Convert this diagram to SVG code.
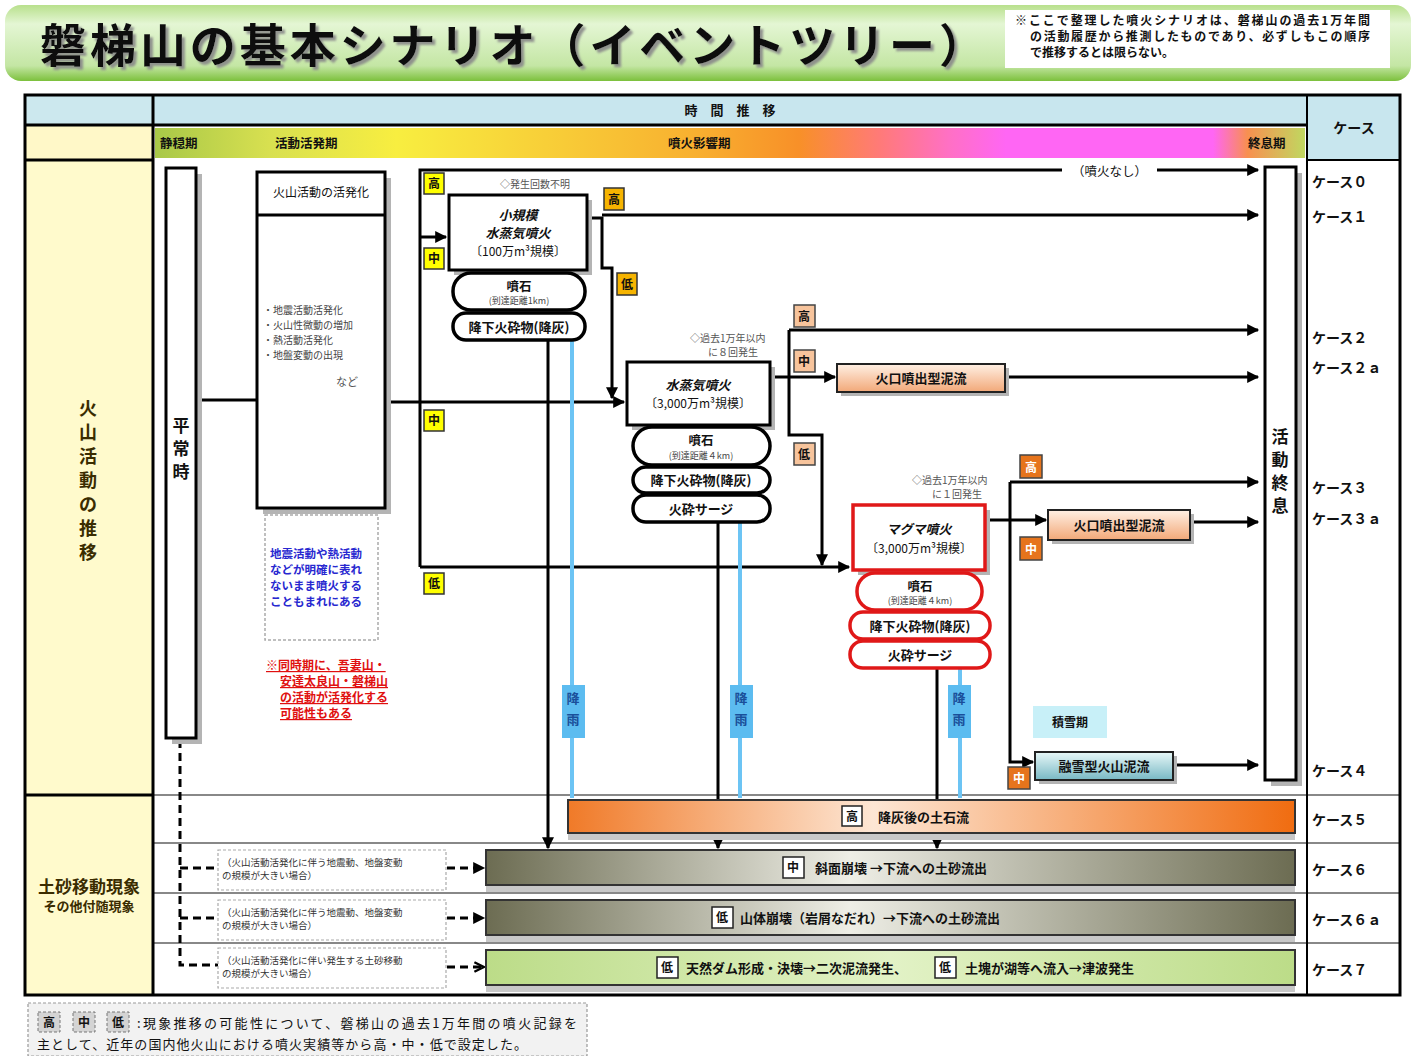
<svg xmlns="http://www.w3.org/2000/svg" width="1411" height="1056" viewBox="0 0 1411 1056">
<style>
text{font-family:"Noto Sans CJK JP","Noto Sans",sans-serif;fill:#111}
.b{font-weight:bold}
.c{text-anchor:middle}
.ln{fill:none;stroke:#000;stroke-width:3}
.blue{fill:none;stroke:#6cc4f4;stroke-width:4}
.dash{fill:none;stroke:#000;stroke-width:3;stroke-dasharray:8,5}
.box{fill:#fff;stroke:#000;stroke-width:3}
.sh{fill:#b4b4b4}
.pill{fill:#fff;stroke:#000;stroke-width:3.5}
.rpill{fill:#fff;stroke:#e01818;stroke-width:3.5}
.by{fill:#ffff00;stroke:#333;stroke-width:1.5}
.bg{fill:#f6b400;stroke:#333;stroke-width:1.5}
.bp{fill:#f7c49c;stroke:#444;stroke-width:1.5}
.bo{fill:#e6741c;stroke:#444;stroke-width:1.5}
.bw{fill:#fff;stroke:#222;stroke-width:1.5}
.bt{font-size:12px;font-weight:bold;text-anchor:middle}
.case{font-size:14px;font-weight:bold}
.note{font-size:10px;fill:#555}
.grid{stroke:#888;stroke-width:2}
.rain{fill:#5cbcf0}
.raint{font-size:13px;font-weight:bold;fill:#1a4f9a;text-anchor:middle}
</style>
<defs>
<marker id="ah" viewBox="0 0 10 10" refX="9" refY="5" markerWidth="13" markerHeight="12" markerUnits="userSpaceOnUse" orient="auto"><path d="M0,0 L10,5 L0,10 z" fill="#000"/></marker>
<marker id="ao" viewBox="0 0 10 10" refX="9" refY="5" markerWidth="12" markerHeight="12" markerUnits="userSpaceOnUse" orient="auto"><path d="M1,1 L9,5 L1,9" fill="none" stroke="#000" stroke-width="2"/></marker>
<filter id="tsh" x="-5%" y="-20%" width="110%" height="140%"><feDropShadow dx="3" dy="3" stdDeviation="0.8" flood-color="#888" flood-opacity="0.9"/></filter>
<linearGradient id="gTitle" x1="0" y1="0" x2="0" y2="1"><stop offset="0" stop-color="#b8e08c"/><stop offset="0.25" stop-color="#e4f6d4"/><stop offset="0.8" stop-color="#c4e6a4"/><stop offset="1" stop-color="#7cc03c"/></linearGradient>
<linearGradient id="gPhase" x1="0" y1="0" x2="1" y2="0"><stop offset="0" stop-color="#a8c848"/><stop offset="0.1" stop-color="#d8e050"/><stop offset="0.21" stop-color="#f8ee40"/><stop offset="0.47" stop-color="#f8b030"/><stop offset="0.56" stop-color="#f89028"/><stop offset="0.63" stop-color="#ff7a78"/><stop offset="0.69" stop-color="#ff70c4"/><stop offset="0.74" stop-color="#ff66f4"/><stop offset="0.92" stop-color="#ff66f4"/><stop offset="0.95" stop-color="#f89050"/><stop offset="1" stop-color="#c0d860"/></linearGradient>
<linearGradient id="gOr" x1="0" y1="0" x2="1" y2="0"><stop offset="0" stop-color="#f07a28"/><stop offset="0.42" stop-color="#fde6d4"/><stop offset="1" stop-color="#f06c10"/></linearGradient>
<linearGradient id="gOl" x1="0" y1="0" x2="1" y2="0"><stop offset="0" stop-color="#6c6c52"/><stop offset="0.45" stop-color="#eeeee6"/><stop offset="1" stop-color="#6c6c52"/></linearGradient>
<linearGradient id="gGr" x1="0" y1="0" x2="1" y2="0"><stop offset="0" stop-color="#bcdc88"/><stop offset="0.5" stop-color="#e2f2c6"/><stop offset="1" stop-color="#bcdc88"/></linearGradient>
<linearGradient id="gPe" x1="0" y1="0" x2="0" y2="1"><stop offset="0" stop-color="#fff0e4"/><stop offset="1" stop-color="#f2a878"/></linearGradient>
<linearGradient id="gTe" x1="0" y1="0" x2="0" y2="1"><stop offset="0" stop-color="#e8f8f8"/><stop offset="1" stop-color="#78b8c4"/></linearGradient>
</defs>

<!-- Title banner -->
<g id="title">
<rect x="5" y="5" width="1406" height="76" rx="16" fill="url(#gTitle)"/>
<text x="40" y="62" font-size="46" font-weight="bold" textLength="945" filter="url(#tsh)">磐梯山の基本シナリオ（イベントツリー）</text>
<rect x="1005" y="10" width="385" height="58" fill="#fff"/>
<text x="1015" y="25" font-size="12" class="b" textLength="355">※ここで整理した噴火シナリオは、磐梯山の過去1万年間</text>
<text x="1030" y="41" font-size="12" class="b" textLength="340">の活動履歴から推測したものであり、必ずしもこの順序</text>
<text x="1030" y="57" font-size="12" class="b">で推移するとは限らない。</text>
</g>

<!-- Table frame -->
<g id="table">
<rect x="25" y="95" width="128" height="30" fill="#cce8ee"/>
<rect x="25" y="125" width="128" height="35" fill="#fff8c8"/>
<rect x="153" y="95" width="1154" height="30" fill="#c8e6ee"/>
<rect x="1307" y="95" width="93" height="65" fill="#c8e6ee"/>
<rect x="25" y="160" width="128" height="835" fill="#fffacc"/>
<rect x="155" y="128" width="1150" height="30" fill="url(#gPhase)"/>
<line x1="153" y1="795" x2="1400" y2="795" class="grid"/>
<line x1="153" y1="843" x2="1400" y2="843" class="grid"/>
<line x1="153" y1="893" x2="1400" y2="893" class="grid"/>
<line x1="153" y1="943" x2="1400" y2="943" class="grid"/>
<line x1="25" y1="795" x2="153" y2="795" stroke="#000" stroke-width="3"/>
<line x1="25" y1="125" x2="1307" y2="125" stroke="#000" stroke-width="3"/>
<line x1="25" y1="160" x2="153" y2="160" stroke="#000" stroke-width="3"/>
<line x1="1307" y1="160" x2="1400" y2="160" stroke="#000" stroke-width="2"/>
<line x1="153" y1="95" x2="153" y2="995" stroke="#000" stroke-width="3"/>
<line x1="1307" y1="95" x2="1307" y2="995" stroke="#000" stroke-width="2"/>
<rect x="25" y="95" width="1375" height="900" fill="none" stroke="#000" stroke-width="3"/>
<text x="730" y="115" font-size="13" class="b c">時　間　推　移</text>
<text x="160" y="148" font-size="12.5" class="b">静穏期</text>
<text x="275" y="148" font-size="12.5" class="b">活動活発期</text>
<text x="668" y="148" font-size="12.5" class="b">噴火影響期</text>
<text x="1248" y="148" font-size="12.5" class="b">終息期</text>
<text x="1354" y="133" font-size="14" class="b c">ケース</text>
<text x="88" font-size="18" class="b c" style="fill:#3a2c00"><tspan x="88" y="415">火</tspan><tspan x="88" y="439">山</tspan><tspan x="88" y="463">活</tspan><tspan x="88" y="487">動</tspan><tspan x="88" y="511">の</tspan><tspan x="88" y="535">推</tspan><tspan x="88" y="559">移</tspan></text>
<text x="89" y="893" font-size="17" class="b c" style="fill:#3a2c00">土砂移動現象</text>
<text x="89" y="911" font-size="13" class="b c" style="fill:#3a2c00">その他付随現象</text>
<text x="1312" y="187" class="case">ケース０</text>
<text x="1312" y="222" class="case">ケース１</text>
<text x="1312" y="343" class="case">ケース２</text>
<text x="1312" y="373" class="case">ケース２ａ</text>
<text x="1312" y="493" class="case">ケース３</text>
<text x="1312" y="524" class="case">ケース３ａ</text>
<text x="1312" y="776" class="case">ケース４</text>
<text x="1312" y="825" class="case">ケース５</text>
<text x="1312" y="875" class="case">ケース６</text>
<text x="1312" y="925" class="case">ケース６ａ</text>
<text x="1312" y="975" class="case">ケース７</text>
</g>

<!-- Connectors -->
<g id="connectors">
<path class="ln" d="M196,400 H257"/>
<path class="ln" d="M385,402 H624" marker-end="url(#ah)"/>
<path class="ln" d="M420,567 V170 H1062"/>
<path class="ln" d="M1157,170 H1258" marker-end="url(#ah)"/>
<path class="ln" d="M420,237 H446" marker-end="url(#ah)"/>
<path class="ln" d="M420,567 H849" marker-end="url(#ah)"/>
<path class="ln" d="M587,218 H602 V268 H612 V398" marker-end="url(#ah)"/>
<path class="ln" d="M602,215 H1258" marker-end="url(#ah)"/>
<path class="ln" d="M770,377 H835" marker-end="url(#ah)"/>
<path class="ln" d="M789,330 H1258" marker-end="url(#ah)"/>
<path class="ln" d="M789,330 V435 H822 V565" marker-end="url(#ah)"/>
<path class="ln" d="M1005,377 H1258" marker-end="url(#ah)"/>
<path class="ln" d="M985,520 H1046" marker-end="url(#ah)"/>
<path class="ln" d="M1010,482 H1258" marker-end="url(#ah)"/>
<path class="ln" d="M1010,482 V762 H1033" marker-end="url(#ah)"/>
<path class="ln" d="M1190,522 H1258" marker-end="url(#ah)"/>
<path class="ln" d="M1173,765 H1258" marker-end="url(#ah)"/>
<path class="ln" d="M548,340 V848" marker-end="url(#ah)"/>
<path class="ln" d="M718,522 V848" marker-end="url(#ah)"/>
<path class="ln" d="M937,668 V848" marker-end="url(#ah)"/>
<path class="blue" d="M572,340 V798"/>
<path class="blue" d="M740,522 V798"/>
<path class="blue" d="M960,668 V798"/>
<path class="dash" d="M180,740 V965 H218"/>
<path class="dash" d="M180,868 H218"/>
<path class="dash" d="M180,918 H218"/>
<path class="dash" d="M447,868 H484" marker-end="url(#ah)"/>
<path class="dash" d="M447,918 H484" marker-end="url(#ah)"/>
<path class="dash" d="M447,967 H484" marker-end="url(#ao)"/>
</g>

<!-- Left nodes -->
<g id="heijoji">
<rect class="sh" x="172" y="174" width="30" height="570"/>
<rect class="box" x="166" y="168" width="30" height="570"/>
<text font-size="17" class="b c"><tspan x="181" y="432">平</tspan><tspan x="181" y="455">常</tspan><tspan x="181" y="478">時</tspan></text>
</g>
<g id="kasseika">
<rect class="sh" x="263" y="178" width="128" height="336"/>
<rect class="box" x="257" y="172" width="128" height="336"/>
<line x1="257" y1="215" x2="385" y2="215" stroke="#000" stroke-width="3"/>
<text x="321" y="197" font-size="12" class="c">火山活動の活発化</text>
<text font-size="10" style="fill:#444"><tspan x="263" y="314">・地震活動活発化</tspan><tspan x="263" y="329">・火山性微動の増加</tspan><tspan x="263" y="344">・熱活動活発化</tspan><tspan x="263" y="359">・地盤変動の出現</tspan></text>
<text x="336" y="386" font-size="11" style="fill:#555">など</text>
</g>
<g id="note-blue">
<rect x="265" y="515" width="113" height="125" fill="#fff" stroke="#aaa" stroke-width="1.5" stroke-dasharray="3,2"/>
<text font-size="11.5" class="b" style="fill:#2828d0"><tspan x="270" y="558">地震活動や熱活動</tspan><tspan x="270" y="574">などが明確に表れ</tspan><tspan x="270" y="590">ないまま噴火する</tspan><tspan x="270" y="606">こともまれにある</tspan></text>
</g>
<g id="note-red">
<text font-size="12" class="b" style="fill:#e01010" text-decoration="underline"><tspan x="266" y="670">※同時期に、吾妻山・</tspan><tspan x="280" y="686">安達太良山・磐梯山</tspan><tspan x="280" y="702">の活動が活発化する</tspan><tspan x="280" y="718">可能性もある</tspan></text>
</g>

<!-- Badges -->
<g id="badges">
<rect class="by" x="424" y="173" width="20" height="21"/><text x="434" y="188" class="bt">高</text>
<rect class="by" x="424" y="248" width="20" height="21"/><text x="434" y="263" class="bt">中</text>
<rect class="by" x="424" y="410" width="20" height="21"/><text x="434" y="425" class="bt">中</text>
<rect class="by" x="424" y="573" width="20" height="21"/><text x="434" y="588" class="bt">低</text>
<rect class="bg" x="604" y="188" width="20" height="22"/><text x="614" y="204" class="bt">高</text>
<rect class="bg" x="617" y="273" width="20" height="22"/><text x="627" y="289" class="bt">低</text>
<rect class="bp" x="794" y="305" width="21" height="22"/><text x="804" y="321" class="bt">高</text>
<rect class="bp" x="794" y="350" width="21" height="22"/><text x="804" y="366" class="bt">中</text>
<rect class="bp" x="794" y="443" width="21" height="22"/><text x="804" y="459" class="bt">低</text>
<rect class="bo" x="1020" y="455" width="22" height="23"/><text x="1031" y="472" class="bt" style="fill:#fff">高</text>
<rect class="bo" x="1020" y="537" width="22" height="23"/><text x="1031" y="554" class="bt" style="fill:#fff">中</text>
<rect class="bo" x="1008" y="767" width="22" height="22"/><text x="1019" y="783" class="bt" style="fill:#fff">中</text>
</g>

<!-- Eruption nodes -->
<g id="shokibo">
<text x="500" y="188" class="note">◇発生回数不明</text>
<rect class="sh" x="454" y="200" width="138" height="75"/>
<rect class="box" x="449" y="195" width="138" height="75"/>
<text x="518" y="220" font-size="13" class="b c" font-style="italic">小規模</text>
<text x="518" y="238" font-size="13" class="b c" font-style="italic">水蒸気噴火</text>
<text x="518" y="256" font-size="12" class="c">〔100万m³規模〕</text>
<rect class="pill" x="453" y="273" width="132" height="37" rx="18"/>
<text x="519" y="291" font-size="12.5" class="b c">噴石</text>
<text x="519" y="304" font-size="9" class="c" style="fill:#444">(到達距離1km)</text>
<rect class="pill" x="453" y="313" width="132" height="27" rx="13"/>
<text x="519" y="332" font-size="13" class="b c">降下火砕物(降灰)</text>
</g>
<g id="suijoki">
<text x="690" y="342" class="note">◇過去1万年以内</text>
<text x="708" y="356" class="note">に８回発生</text>
<rect class="sh" x="632" y="367" width="143" height="63"/>
<rect class="box" x="627" y="362" width="143" height="63"/>
<text x="698" y="390" font-size="13" class="b c" font-style="italic">水蒸気噴火</text>
<text x="698" y="408" font-size="12" class="c">〔3,000万m³規模〕</text>
<rect class="pill" x="633" y="427" width="137" height="38" rx="19"/>
<text x="701" y="445" font-size="12.5" class="b c">噴石</text>
<text x="701" y="459" font-size="9" class="c" style="fill:#444">(到達距離４km)</text>
<rect class="pill" x="633" y="467" width="137" height="26" rx="13"/>
<text x="701" y="485" font-size="13" class="b c">降下火砕物(降灰)</text>
<rect class="pill" x="633" y="495" width="137" height="27" rx="13"/>
<text x="701" y="514" font-size="13" class="b c">火砕サージ</text>
</g>
<g id="magma">
<text x="912" y="484" class="note">◇過去1万年以内</text>
<text x="932" y="498" class="note">に１回発生</text>
<rect class="sh" x="858" y="510" width="132" height="65"/>
<rect x="853" y="505" width="132" height="65" fill="#fff" stroke="#e01818" stroke-width="3.5"/>
<text x="919" y="534" font-size="13" class="b c" font-style="italic">マグマ噴火</text>
<text x="919" y="553" font-size="12" class="c">〔3,000万m³規模〕</text>
<rect class="rpill" x="857" y="573" width="125" height="37" rx="18"/>
<text x="920" y="591" font-size="12.5" class="b c">噴石</text>
<text x="920" y="604" font-size="9" class="c" style="fill:#444">(到達距離４km)</text>
<rect class="rpill" x="850" y="612" width="140" height="27" rx="13"/>
<text x="920" y="631" font-size="13" class="b c">降下火砕物(降灰)</text>
<rect class="rpill" x="850" y="641" width="140" height="27" rx="13"/>
<text x="920" y="660" font-size="13" class="b c">火砕サージ</text>
</g>
<g id="deiryu1">
<rect class="sh" x="841" y="368" width="168" height="28"/>
<rect x="837" y="364" width="168" height="28" fill="url(#gPe)" stroke="#222" stroke-width="2"/>
<text x="921" y="383" font-size="13" class="b c">火口噴出型泥流</text>
</g>
<g id="deiryu2">
<rect class="sh" x="1052" y="514" width="142" height="30"/>
<rect x="1048" y="510" width="142" height="30" fill="url(#gPe)" stroke="#222" stroke-width="2"/>
<text x="1119" y="530" font-size="13" class="b c">火口噴出型泥流</text>
</g>
<g id="sekisetsu">
<rect x="1033" y="706" width="74" height="32" fill="#c8f0f8"/>
<text x="1070" y="727" font-size="12" class="b c">積雪期</text>
</g>
<g id="yusetsu">
<rect class="sh" x="1039" y="756" width="138" height="28"/>
<rect x="1035" y="752" width="138" height="28" fill="url(#gTe)" stroke="#222" stroke-width="2"/>
<text x="1104" y="771" font-size="13" class="b c">融雪型火山泥流</text>
</g>
<g id="shusoku">
<rect class="sh" x="1271" y="173" width="31" height="613"/>
<rect class="box" x="1265" y="167" width="31" height="613"/>
<text font-size="17" class="b c"><tspan x="1280" y="443">活</tspan><tspan x="1280" y="466">動</tspan><tspan x="1280" y="489">終</tspan><tspan x="1280" y="512">息</tspan></text>
</g>
<g id="funka-nashi"><text x="1072" y="176" font-size="12.5">（噴火なし）</text></g>

<!-- Rain labels -->
<g id="rain1"><rect class="rain" x="562" y="685" width="23" height="53"/><text class="raint"><tspan x="573" y="703">降</tspan><tspan x="573" y="724">雨</tspan></text></g>
<g id="rain2"><rect class="rain" x="730" y="685" width="23" height="53"/><text class="raint"><tspan x="741" y="703">降</tspan><tspan x="741" y="724">雨</tspan></text></g>
<g id="rain3"><rect class="rain" x="948" y="685" width="23" height="53"/><text class="raint"><tspan x="959" y="703">降</tspan><tspan x="959" y="724">雨</tspan></text></g>

<!-- Lower bars -->
<g id="dosekiryu">
<rect x="568" y="834" width="727" height="6" fill="#c8c8c8"/>
<rect x="568" y="800" width="727" height="33" fill="url(#gOr)" stroke="#333" stroke-width="2"/>
<rect class="bw" x="842" y="806" width="20" height="20"/><text x="852" y="821" class="bt">高</text>
<text x="878" y="822" font-size="13" class="b">降灰後の土石流</text>
</g>
<g id="shamen">
<rect x="486" y="886" width="809" height="6" fill="#c8c8c8"/>
<rect x="486" y="850" width="809" height="35" fill="url(#gOl)" stroke="#333" stroke-width="2"/>
<rect class="bw" x="783" y="857" width="21" height="21"/><text x="793" y="872" class="bt">中</text>
<text x="815" y="873" font-size="13" class="b">斜面崩壊 →下流への土砂流出</text>
</g>
<g id="santai">
<rect x="486" y="936" width="809" height="6" fill="#c8c8c8"/>
<rect x="486" y="900" width="809" height="35" fill="url(#gOl)" stroke="#333" stroke-width="2"/>
<rect class="bw" x="712" y="907" width="21" height="21"/><text x="722" y="922" class="bt">低</text>
<text x="740" y="923" font-size="13" class="b">山体崩壊（岩屑なだれ）→下流への土砂流出</text>
</g>
<g id="tennen">
<rect x="486" y="986" width="809" height="6" fill="#c8c8c8"/>
<rect x="486" y="950" width="809" height="35" fill="url(#gGr)" stroke="#333" stroke-width="2"/>
<rect class="bw" x="657" y="957" width="21" height="21"/><text x="667" y="972" class="bt">低</text>
<text x="686" y="973" font-size="13" class="b">天然ダム形成・決壊→二次泥流発生、</text>
<rect class="bw" x="935" y="957" width="21" height="21"/><text x="945" y="972" class="bt">低</text>
<text x="965" y="973" font-size="13" class="b">土塊が湖等へ流入→津波発生</text>
</g>
<g id="cond1">
<rect x="218" y="850" width="228" height="40" fill="#fff" stroke="#aaa" stroke-width="1.2" stroke-dasharray="3,2"/>
<text font-size="9.5" style="fill:#333"><tspan x="222" y="866">（火山活動活発化に伴う地震動、地盤変動</tspan><tspan x="222" y="879">の規模が大きい場合）</tspan></text>
</g>
<g id="cond2">
<rect x="218" y="900" width="228" height="40" fill="#fff" stroke="#aaa" stroke-width="1.2" stroke-dasharray="3,2"/>
<text font-size="9.5" style="fill:#333"><tspan x="222" y="916">（火山活動活発化に伴う地震動、地盤変動</tspan><tspan x="222" y="929">の規模が大きい場合）</tspan></text>
</g>
<g id="cond3">
<rect x="218" y="948" width="228" height="40" fill="#fff" stroke="#aaa" stroke-width="1.2" stroke-dasharray="3,2"/>
<text font-size="9.5" style="fill:#333"><tspan x="222" y="964">（火山活動活発化に伴い発生する土砂移動</tspan><tspan x="222" y="977">の規模が大きい場合）</tspan></text>
</g>

<!-- Legend -->
<g id="legend">
<rect x="28" y="1003" width="559" height="53" fill="#f2f2f2" stroke="#999" stroke-width="1.2" stroke-dasharray="3,2"/>
<rect x="38" y="1012" width="22" height="20" fill="#d4d4d4" stroke="#777" stroke-dasharray="3,2"/><text x="49" y="1027" class="bt">高</text>
<rect x="73" y="1012" width="22" height="20" fill="#d4d4d4" stroke="#777" stroke-dasharray="3,2"/><text x="84" y="1027" class="bt">中</text>
<rect x="107" y="1012" width="22" height="20" fill="#d4d4d4" stroke="#777" stroke-dasharray="3,2"/><text x="118" y="1027" class="bt">低</text>
<text x="137" y="1028" font-size="13" textLength="440">:現象推移の可能性について、磐梯山の過去1万年間の噴火記録を</text>
<text x="37" y="1049" font-size="13" textLength="490">主として、近年の国内他火山における噴火実績等から高・中・低で設定した。</text>
</g>
</svg>
